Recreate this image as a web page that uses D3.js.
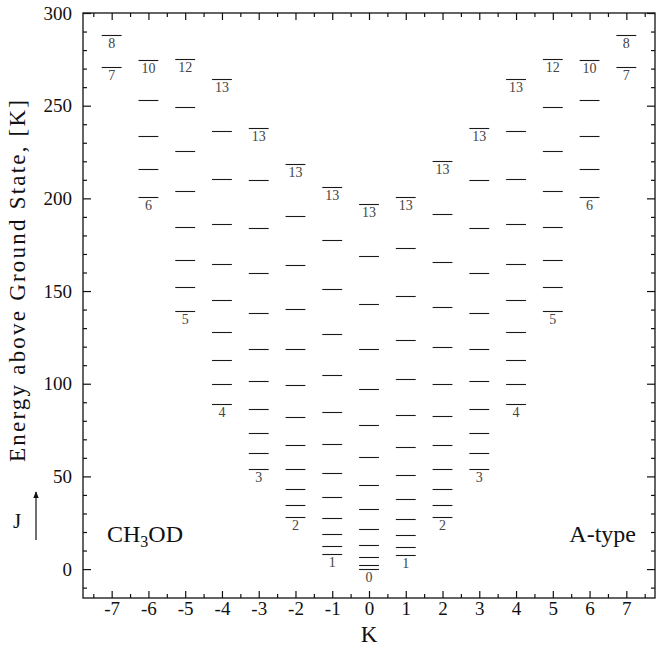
<!DOCTYPE html>
<html>
<head>
    <title>CH3OD A-type energy levels</title>
    <script src="https://d3js.org/d3.v7.min.js"></script>
    <style>
        body { margin: 0; background: #fff; }
        text { font-family: "Liberation Serif", "DejaVu Serif", serif; fill: #111; }
        .axis path { display: none; }
        .axis line { stroke: #111; stroke-width: 1.2; }
        .axis text { font-size: 19px; }
        .level { stroke: #1a1a1a; stroke-width: 1.1; }
        .jlabel { font-size: 14px; fill: #444; }
    </style>
</head>
<body>
    <svg width="656" height="649"></svg>
    <script>
        // K quantum numbers on the x axis
        const kValues = [-7, -6, -5, -4, -3, -2, -1, 0, 1, 2, 3, 4, 5, 6, 7];

        // lowest J for each K column
        const jMin = [7, 6, 5, 4, 3, 2, 1, 0, 1, 2, 3, 4, 5, 6, 7];

        // energies (K), J = jMin .. top, per K column
        const levelsKm7 = [271, 288.3];
        const levelsKm6 = [201, 216, 233.7, 253.2, 274.6];
        const levelsKm5 = [139, 152, 167, 184.4, 203.8, 225.4, 249.3, 275.3];
        const levelsKm4 = [89, 99.8, 112.8, 128, 145.4, 164.8, 186.4, 210.2, 236.2, 264.4];
        const levelsKm3 = [54, 62.6, 73.5, 86.4, 101.6, 119, 138.4, 160, 183.8, 209.8, 238];
        const levelsKm2 = [28, 34.5, 43.1, 54, 66.9, 82.1, 99.5, 118.9, 140.5, 164.3, 190.3, 218.5];
        const levelsKm1 = [7.9, 12.5, 18.9, 27.7, 38.7, 51.9, 67.3, 84.9, 104.7, 126.7, 150.9, 177.3, 205.9];
        const levelsK0 = [0, 2.2, 6.5, 13, 21.6, 32.5, 45.4, 60.6, 77.9, 97.4, 119, 142.8, 168.8, 197];
        const levelsK1 = [7.8, 12.1, 18.6, 27.2, 37.9, 50.8, 65.8, 83, 102.3, 123.7, 147.3, 173.1, 201];
        const levelsK2 = [28, 34.6, 43.3, 54.2, 67.2, 82.5, 100, 119.6, 141.4, 165.4, 191.6, 220];
        const levelsK3 = [54, 62.6, 73.5, 86.4, 101.6, 119, 138.4, 160, 183.8, 209.8, 238];
        const levelsK4 = [89, 99.8, 112.8, 128, 145.4, 164.8, 186.4, 210.2, 236.2, 264.4];
        const levelsK5 = [139, 152, 167, 184.4, 203.8, 225.4, 249.3, 275.3];
        const levelsK6 = [201, 216, 233.7, 253.2, 274.6];
        const levelsK7 = [271, 288.3];

        const allLevels = [levelsKm7, levelsKm6, levelsKm5, levelsKm4, levelsKm3, levelsKm2, levelsKm1,
            levelsK0, levelsK1, levelsK2, levelsK3, levelsK4, levelsK5, levelsK6, levelsK7];

        const yTicks = [0, 50, 100, 150, 200, 250, 300];

        const svg = d3.select("svg");
        const plotLeft = 83, plotRight = 655, plotTop = 13, plotBottom = 598;

        const x = d3.scaleLinear().domain([-7.78, 7.78]).range([plotLeft, plotRight]);
        const y = d3.scaleLinear().domain([-15.6, 300]).range([plotBottom, plotTop]);

        // flatten into marks
        const levels = [];
        const labels = [];
        kValues.forEach((k, i) => {
            const col = allLevels[i];
            col.forEach((e, j) => levels.push({ k: k, e: e, J: jMin[i] + j }));
            labels.push({ k: k, e: col[0], J: jMin[i] });
            labels.push({ k: k, e: col[col.length - 1], J: jMin[i] + col.length - 1 });
        });

        // frame
        svg.append("rect")
            .attr("x", plotLeft).attr("y", plotTop)
            .attr("width", plotRight - plotLeft).attr("height", plotBottom - plotTop)
            .attr("fill", "none").attr("stroke", "#111").attr("stroke-width", 1.3);

        const halfK = d3.range(-7.5, 8, 1);
        const minorE = d3.range(-10, 301, 10).filter(v => v % 50 !== 0);

        // bottom / top axes
        svg.append("g").attr("class", "axis")
            .attr("transform", `translate(0,${plotBottom})`)
            .call(d3.axisBottom(x).tickValues(kValues).tickSize(-7).tickPadding(4).tickFormat(d => String(d)));
        svg.append("g").attr("class", "axis")
            .attr("transform", `translate(0,${plotBottom})`)
            .call(d3.axisBottom(x).tickValues(halfK).tickSize(-4).tickFormat(""));
        svg.append("g").attr("class", "axis")
            .attr("transform", `translate(0,${plotTop})`)
            .call(d3.axisTop(x).tickValues(kValues).tickSize(-7).tickFormat(""));
        svg.append("g").attr("class", "axis")
            .attr("transform", `translate(0,${plotTop})`)
            .call(d3.axisTop(x).tickValues(halfK).tickSize(-4).tickFormat(""));

        // left / right axes
        svg.append("g").attr("class", "axis")
            .attr("transform", `translate(${plotLeft},0)`)
            .call(d3.axisLeft(y).tickValues(yTicks).tickSize(-8).tickPadding(11));
        svg.append("g").attr("class", "axis")
            .attr("transform", `translate(${plotLeft},0)`)
            .call(d3.axisLeft(y).tickValues(minorE).tickSize(-4).tickFormat(""));
        svg.append("g").attr("class", "axis")
            .attr("transform", `translate(${plotRight},0)`)
            .call(d3.axisRight(y).tickValues(yTicks).tickSize(-8).tickFormat(""));
        svg.append("g").attr("class", "axis")
            .attr("transform", `translate(${plotRight},0)`)
            .call(d3.axisRight(y).tickValues(minorE).tickSize(-4).tickFormat(""));

        // energy levels
        const halfW = 0.27;
        svg.selectAll(".level")
            .data(levels)
            .enter().append("line")
            .attr("class", "level")
            .attr("x1", d => x(d.k - halfW))
            .attr("x2", d => x(d.k + halfW))
            .attr("y1", d => Math.round(y(d.e)) + 0.5)
            .attr("y2", d => Math.round(y(d.e)) + 0.5);

        svg.selectAll(".jlabel")
            .data(labels)
            .enter().append("text")
            .attr("class", "jlabel")
            .attr("x", d => x(d.k))
            .attr("y", d => y(d.e) + 13)
            .attr("text-anchor", "middle")
            .text(d => d.J);

        // axis titles
        svg.append("text")
            .attr("x", x(0)).attr("y", 642)
            .attr("text-anchor", "middle")
            .style("font-size", "23px")
            .text("K");

        svg.append("text")
            .attr("transform", "translate(25,281) rotate(-90)")
            .attr("text-anchor", "middle")
            .attr("textLength", 362)
            .attr("lengthAdjust", "spacing")
            .style("font-size", "23px")
            .text("Energy above Ground State, [K]");

        // J arrow
        svg.append("defs").append("marker")
            .attr("id", "arrow")
            .attr("viewBox", "0 0 10 10")
            .attr("refX", 9).attr("refY", 5)
            .attr("markerWidth", 6).attr("markerHeight", 6)
            .attr("orient", "auto")
            .append("path").attr("d", "M0,1 L10,5 L0,9 Z").attr("fill", "#111");
        svg.append("line")
            .attr("x1", 36).attr("x2", 36)
            .attr("y1", 540).attr("y2", 492)
            .attr("stroke", "#111").attr("stroke-width", 1.2)
            .attr("marker-end", "url(#arrow)");
        svg.append("text")
            .attr("x", 17).attr("y", 528)
            .attr("text-anchor", "middle")
            .style("font-size", "21px")
            .text("J");

        // annotations
        const mol = svg.append("text")
            .attr("x", 107).attr("y", 542)
            .style("font-size", "24px");
        mol.append("tspan").text("CH");
        mol.append("tspan").attr("dy", 5).style("font-size", "16px").text("3");
        mol.append("tspan").attr("dy", -5).text("OD");

        svg.append("text")
            .attr("x", 636).attr("y", 542)
            .attr("text-anchor", "end")
            .style("font-size", "24px")
            .text("A-type");
    </script>
</body>
</html>
